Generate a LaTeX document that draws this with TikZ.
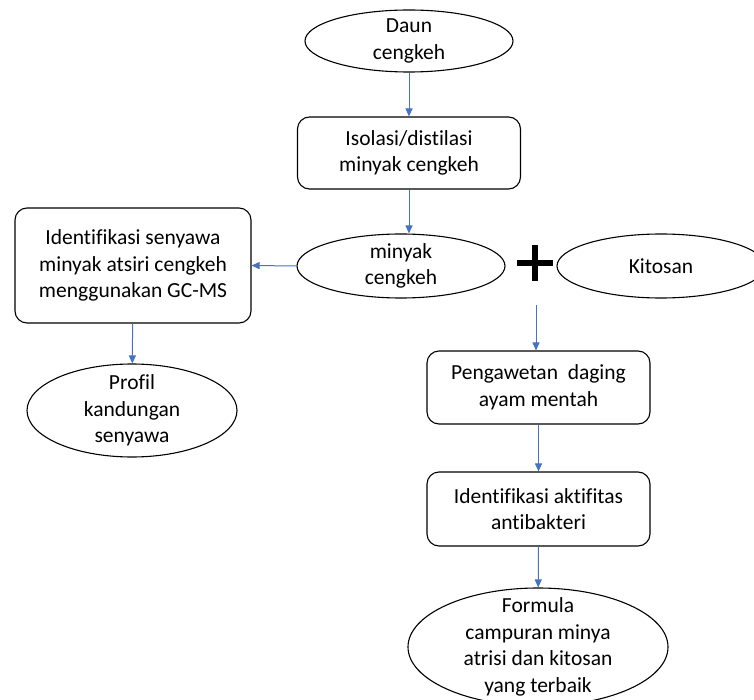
\documentclass[tikz,border=0pt]{standalone}
\usepackage{fontspec}
\setmainfont{Carlito}[Ligatures=NoCommon]
\usetikzlibrary{shapes.geometric,arrows.meta}
\definecolor{arrowblue}{HTML}{4472C4}
\begin{document}
\begin{tikzpicture}[x=1pt,y=-1pt,
    txt/.style={font=\fontsize{21.5}{26.5}\selectfont,align=center,inner sep=0pt},
    oval/.style={ellipse,draw,line width=1.1pt,inner sep=0pt},
    box/.style={rectangle,draw,line width=1.1pt,rounded corners=12pt,inner sep=0pt,txt},
    flow/.style={draw=arrowblue,line width=1pt,-{Triangle[length=8pt,width=7pt]}}]

      \useasboundingbox (0,0) rectangle (754,700);
      \clip (0,0) rectangle (754,700);

      % ovals (text placed on top)
      \node[oval,minimum width=208,minimum height=62] (1) at (409,41)  {};
      \node[oval,minimum width=208,minimum height=64] (3) at (401,266) {};
      \node[oval,minimum width=210,minimum height=93] (5) at (132,410.5) {};
      \node[oval,minimum width=208,minimum height=64] (6) at (661,266) {};
      \node[oval,minimum width=260,minimum height=118] (9) at (538,647) {};

      \node[txt] at (1) {Daun\\cengkeh};
      \node[txt] at (3) {minyak\\cengkeh};
      \node[txt] at (5) {Profil\\kandungan\\senyawa};
      \node[txt] at (6) {Kitosan};
      \node[txt] at (9) {Formula\\campuran minya\\atrisi dan kitosan\\yang terbaik};

      % boxes
      \node[box,minimum width=223,minimum height=72]  (2) at (409,153)   {Isolasi/distilasi\\minyak cengkeh};
      \node[box,minimum width=236,minimum height=115] (4) at (133,265.5) {Identifikasi senyawa\\minyak atsiri cengkeh\\menggunakan GC-MS};
      \node[box,minimum width=223,minimum height=73]  (7) at (538.5,387.5) {Pengawetan\ \ daging\\ayam mentah};
      \node[box,minimum width=223,minimum height=74]  (8) at (538.5,509) {Identifikasi aktifitas\\antibakteri};

      % plus sign
      \draw[line width=5.5pt] (517,263) -- (553,263) (535,245) -- (535,281);
      \coordinate (p) at (536,305);

      \draw[flow] (1) -- (2);
      \draw[flow] (2.south) -- (2.south |- 3.north);
      \draw[flow] (3.west) -- (4.east);
      \draw[flow] (4) -- (5);
      \draw[flow] (p) -- (p |- 7.north);
      \draw[flow] (7) -- (8);
      \draw[flow] (8) -- (9);

    \end{tikzpicture}
\end{document}
